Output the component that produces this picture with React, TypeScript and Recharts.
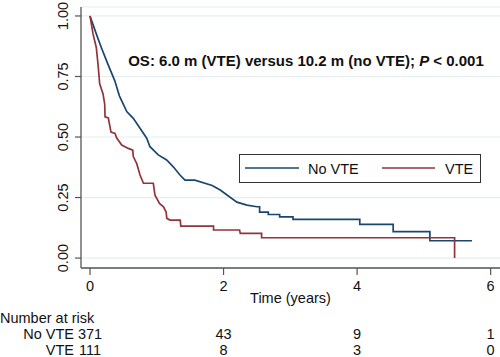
import React from "react";
import { LineChart, Line, XAxis, YAxis, CartesianGrid } from "recharts";

// ---- Data ----
const noVteTime = [0, 0.094, 0.169, 0.269, 0.37, 0.44, 0.55, 0.648, 0.749, 0.849, 0.898, 1.022, 1.148, 1.247, 1.347, 1.422, 1.57, 1.83, 1.95, 2.2, 2.35, 2.5, 2.54, 2.54, 2.67, 2.67, 2.84, 2.84, 3.04, 3.04, 4.04, 4.04, 4.54, 4.54, 5.09, 5.09, 5.72];
const noVteSurv = [1, 0.926, 0.87, 0.8, 0.733, 0.67, 0.605, 0.577, 0.536, 0.495, 0.46, 0.426, 0.405, 0.377, 0.343, 0.322, 0.322, 0.3, 0.281, 0.231, 0.219, 0.212, 0.212, 0.19, 0.19, 0.18, 0.18, 0.17, 0.17, 0.16, 0.16, 0.139, 0.139, 0.109, 0.109, 0.0715, 0.0715];

const vteTime = [0, 0.02, 0.045, 0.094, 0.12, 0.145, 0.195, 0.22, 0.225, 0.274, 0.314, 0.374, 0.4, 0.475, 0.573, 0.64, 0.648, 0.7, 0.749, 0.8, 0.948, 0.973, 1.04, 1.1, 1.14, 1.15, 1.2, 1.35, 1.36, 1.85, 1.85, 2.24, 2.25, 2.57, 2.57, 5.46, 5.46];
const vteSurv = [1, 0.967, 0.926, 0.87, 0.8, 0.72, 0.678, 0.636, 0.583, 0.579, 0.52, 0.515, 0.496, 0.467, 0.453, 0.446, 0.419, 0.39, 0.343, 0.309, 0.309, 0.26, 0.226, 0.212, 0.19, 0.164, 0.157, 0.157, 0.132, 0.132, 0.116, 0.116, 0.102, 0.102, 0.084, 0.084, 0];

const xTicks = [0, 2, 4, 6];
const yTicks = [0, 0.25, 0.5, 0.75, 1];
const riskNoVte = [371, 43, 9, 1];
const riskVte = [111, 8, 3, 0];
const seriesNames = ["No VTE", "VTE"];
const titleText = "OS: 6.0 m (VTE) versus 10.2 m (no VTE); ";

const noVteData = noVteTime.map((t, i) => ({ t, s: noVteSurv[i] }));
const vteData = vteTime.map((t, i) => ({ t, s: vteSurv[i] }));

const BLUE = "#1a476f";
const RED = "#90353b";
const AXIS = "#555";
const FONT = "'Liberation Sans', Arial, sans-serif";
const TXT = "#111";
const ROW1_Y = 339;
const ROW2_Y = 355;

const YTick = (props: any) => {
  const { y, payload } = props;
  return (
    <text
      x={68}
      y={y}
      transform={`rotate(-90, 68, ${y})`}
      textAnchor="middle"
      fontFamily={FONT}
      fontSize={14.5}
      fill={TXT}
    >
      {Number(payload.value).toFixed(2)}
    </text>
  );
};

const XTick = (props: any) => {
  const { x, payload } = props;
  const idx = xTicks.indexOf(payload.value);
  return (
    <g fontFamily={FONT} fontSize={14.5} fill={TXT}>
      <text x={x} y={291} textAnchor="middle">{payload.value}</text>
      <text x={x} y={ROW1_Y} textAnchor="middle">{riskNoVte[idx]}</text>
      <text x={x} y={ROW2_Y} textAnchor="middle">{riskVte[idx]}</text>
    </g>
  );
};

export default function App() {
  return (
    <div style={{ position: "absolute", left: 0, top: 0, width: 500, height: 357, background: "#fff" }}>
      <LineChart width={500} height={357} margin={{ top: 7, right: 0, left: 21, bottom: 59 }}>
        <CartesianGrid horizontal vertical={false} stroke="#e4edf0" strokeWidth={1.2} />
        <XAxis
          type="number"
          dataKey="t"
          domain={[-0.135, 6.14]}
          ticks={xTicks}
          allowDataOverflow
          height={30}
          tick={<XTick />}
          tickSize={7}
          stroke={AXIS}
          strokeWidth={1.3}
          tickLine={{ stroke: AXIS, strokeWidth: 1.2 }}
        />
        <YAxis
          type="number"
          dataKey="s"
          domain={[-0.041, 1.037]}
          ticks={yTicks}
          allowDataOverflow
          width={60}
          tick={<YTick />}
          tickSize={6}
          stroke={AXIS}
          strokeWidth={1.3}
          tickLine={{ stroke: AXIS, strokeWidth: 1.2 }}
        />
        <Line data={noVteData} dataKey="s" type="linear" stroke={BLUE} strokeWidth={1.7} dot={false} isAnimationActive={false} />
        <Line data={vteData} dataKey="s" type="linear" stroke={RED} strokeWidth={1.7} dot={false} isAnimationActive={false} />
      </LineChart>
      <svg width={500} height={357} style={{ position: "absolute", left: 0, top: 0, pointerEvents: "none" }}>
        <text x={306} y={66} textAnchor="middle" fontFamily={FONT} fontSize={15} fontWeight="bold" fill={TXT}>
          {titleText}
          <tspan fontStyle="italic">P</tspan>
          {" < 0.001"}
        </text>
        <rect x={239.5} y={154.5} width={241} height={28} fill="#fff" stroke="#333" strokeWidth={1} />
        <line x1={245} x2={299} y1={168} y2={168} stroke={BLUE} strokeWidth={1.5} />
        <text x={308} y={173.5} fontFamily={FONT} fontSize={14.5} fill={TXT}>{seriesNames[0]}</text>
        <line x1={382} x2={435} y1={168} y2={168} stroke={RED} strokeWidth={1.5} />
        <text x={445} y={173.5} fontFamily={FONT} fontSize={14.5} fill={TXT}>{seriesNames[1]}</text>
        <text x={290.5} y={303} textAnchor="middle" fontFamily={FONT} fontSize={14.5} fill={TXT}>Time (years)</text>
        <text x={0} y={323} fontFamily={FONT} fontSize={14.5} fill={TXT}>Number at risk</text>
        <text x={74} y={ROW1_Y} textAnchor="end" fontFamily={FONT} fontSize={14.5} fill={TXT}>{seriesNames[0]}</text>
        <text x={74} y={ROW2_Y} textAnchor="end" fontFamily={FONT} fontSize={14.5} fill={TXT}>{seriesNames[1]}</text>
      </svg>
    </div>
  );
}
